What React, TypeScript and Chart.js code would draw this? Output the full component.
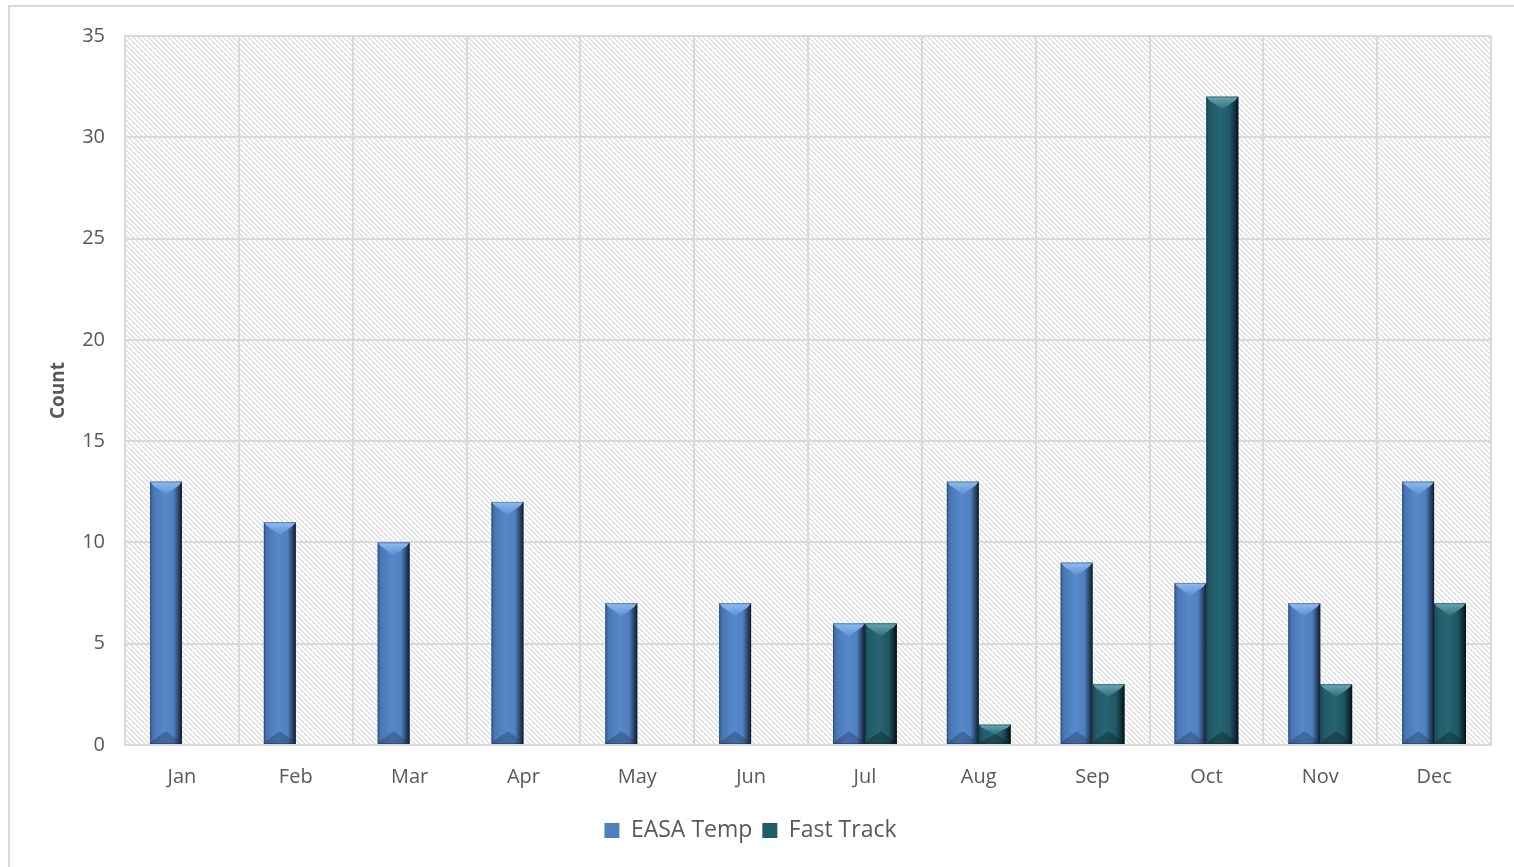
import React, { useEffect, useRef } from "react";
import { Chart, registerables } from "chart.js";

Chart.register(...registerables);

const months = ["Jan", "Feb", "Mar", "Apr", "May", "Jun", "Jul", "Aug", "Sep", "Oct", "Nov", "Dec"];
const easaTemp = [13, 11, 10, 12, 7, 7, 6, 13, 9, 8, 7, 13];
const fastTrack = [0, 0, 0, 0, 0, 0, 6, 1, 3, 32, 3, 7];
const seriesNames = ["EASA Temp", "Fast Track"];
const yTicks = { min: 0, max: 35, step: 5 };

const FONT = "'Open Sans', 'Liberation Sans', sans-serif";
const TEXT = "#595959";
const GRID = "#d9d9d9";

type Palette = {
  base: string;
  stops: [number, string][];
  top: [string, string];
  bottom: string;
};

const palettes: Palette[] = [
  {
    base: "#4f81bd",
    stops: [
      [0, "#3b6298"],
      [0.12, "#4a78b5"],
      [0.45, "#5689cb"],
      [0.74, "#4f80bf"],
      [0.87, "#2f4f7a"],
      [1, "#121c2c"],
    ],
    top: ["#8fbcf2", "#5d90d2"],
    bottom: "rgba(30,50,85,0.35)",
  },
  {
    base: "#215c69",
    stops: [
      [0, "#1b4b56"],
      [0.12, "#215b68"],
      [0.45, "#266574"],
      [0.74, "#1f5663"],
      [0.87, "#133741"],
      [1, "#061014"],
    ],
    top: ["#6aa8b2", "#2c6d7b"],
    bottom: "rgba(5,25,30,0.35)",
  },
];

// Paints the bevelled look over every bar the bar controller has laid out.
const bevelPlugin = {
  id: "bevelBars",
  afterDatasetsDraw(chart: any) {
    const ctx: CanvasRenderingContext2D = chart.ctx;
    chart.data.datasets.forEach((_ds: any, di: number) => {
      const meta = chart.getDatasetMeta(di);
      const pal = palettes[di];
      meta.data.forEach((bar: any) => {
        const { x, y, base, width } = bar.getProps(["x", "y", "base", "width"], true);
        const top = Math.min(y, base);
        const bottom = Math.max(y, base);
        const h = bottom - top;
        if (h < 0.5) return;
        const left = x - width / 2;
        const right = x + width / 2;
        ctx.save();
        const g = ctx.createLinearGradient(left, 0, right, 0);
        pal.stops.forEach(([o, c]) => g.addColorStop(o, c));
        ctx.fillStyle = g;
        ctx.fillRect(left, top, width, h);
        const b = Math.min(width * 0.4, h / 2);
        // top facet
        const tg = ctx.createLinearGradient(0, top, 0, top + b);
        tg.addColorStop(0, pal.top[0]);
        tg.addColorStop(1, pal.top[1]);
        ctx.fillStyle = tg;
        ctx.beginPath();
        ctx.moveTo(left, top);
        ctx.lineTo(right, top);
        ctx.lineTo(right - width * 0.1, top + b * 0.3);
        ctx.lineTo(x, top + b);
        ctx.lineTo(left + width * 0.1, top + b * 0.3);
        ctx.closePath();
        ctx.fill();
        // bottom facet
        ctx.fillStyle = pal.bottom;
        ctx.beginPath();
        ctx.moveTo(left, bottom);
        ctx.lineTo(right, bottom);
        ctx.lineTo(right - width * 0.1, bottom - b * 0.3);
        ctx.lineTo(x, bottom - b);
        ctx.lineTo(left + width * 0.1, bottom - b * 0.3);
        ctx.closePath();
        ctx.fill();
        ctx.strokeStyle = "rgba(20,30,40,0.3)";
        ctx.lineWidth = 1;
        ctx.strokeRect(left + 0.5, top + 0.5, width - 1, h - 1);
        ctx.restore();
      });
    });
  },
};

// Fine diagonal hatch fill behind the plot area.
const hatchPlugin = {
  id: "hatchBackground",
  beforeDraw(chart: any) {
    const { ctx, chartArea } = chart;
    if (!chartArea) return;
    const s = 5;
    const tile = document.createElement("canvas");
    tile.width = s;
    tile.height = s;
    const t = tile.getContext("2d")!;
    t.fillStyle = "#ffffff";
    t.fillRect(0, 0, s, s);
    t.strokeStyle = "#d6d6d6";
    t.lineWidth = 1.2;
    t.beginPath();
    t.moveTo(-1, -1);
    t.lineTo(s + 1, s + 1);
    t.moveTo(-1, s - 1);
    t.lineTo(1, s + 1);
    t.moveTo(s - 1, -1);
    t.lineTo(s + 1, 1);
    t.stroke();
    const pattern = ctx.createPattern(tile, "repeat");
    ctx.save();
    ctx.fillStyle = pattern;
    ctx.fillRect(chartArea.left, chartArea.top, chartArea.right - chartArea.left, chartArea.bottom - chartArea.top);
    ctx.restore();
  },
};

export default function App() {
  const canvasRef = useRef<HTMLCanvasElement | null>(null);

  useEffect(() => {
    if (!canvasRef.current) return;
    const chart = new Chart(canvasRef.current, {
      type: "bar",
      data: {
        labels: months,
        datasets: [
          {
            label: seriesNames[0],
            data: easaTemp,
            backgroundColor: palettes[0].base,
            categoryPercentage: 0.56,
            barPercentage: 1,
          },
          {
            label: seriesNames[1],
            data: fastTrack,
            backgroundColor: palettes[1].base,
            categoryPercentage: 0.56,
            barPercentage: 1,
          },
        ],
      },
      options: {
        animation: false,
        responsive: true,
        maintainAspectRatio: false,
        layout: { padding: { top: 22, right: 13, left: 0, bottom: 11 } },
        plugins: {
          tooltip: { enabled: false },
          legend: {
            position: "bottom",
            labels: {
              color: TEXT,
              font: { family: FONT, size: 23 },
              boxWidth: 15,
              boxHeight: 15,
              padding: 10,
            },
          },
        },
        scales: {
          x: {
            grid: { color: GRID, lineWidth: 2, drawTicks: false },
            border: { color: GRID, width: 2 },
            ticks: { color: TEXT, font: { family: FONT, size: 20 }, padding: 20 },
          },
          y: {
            min: yTicks.min,
            max: yTicks.max,
            afterFit: (scale: any) => {
              scale.width = 115;
            },
            grid: { color: GRID, lineWidth: 2, drawTicks: false },
            border: { color: GRID, width: 2 },
            ticks: { stepSize: yTicks.step, color: TEXT, font: { family: FONT, size: 20 }, padding: 20 },
            title: {
              display: true,
              text: "Count",
              color: TEXT,
              font: { family: FONT, size: 19, weight: "bold" },
              padding: { top: 37, bottom: 0 },
            },
          },
        },
      },
      plugins: [hatchPlugin, bevelPlugin],
    } as any);
    return () => chart.destroy();
  }, []);

  return (
    <div
      style={{
        position: "absolute",
        left: 8,
        top: 5,
        width: 1506,
        height: 862,
        borderTop: "2px solid #d9d9d9",
        borderLeft: "2px solid #d9d9d9",
        boxSizing: "border-box",
        background: "#ffffff",
      }}
    >
      <div style={{ position: "absolute", left: 0, top: -3, width: 1494, height: 859 }}>
        <canvas ref={canvasRef} />
      </div>
    </div>
  );
}
